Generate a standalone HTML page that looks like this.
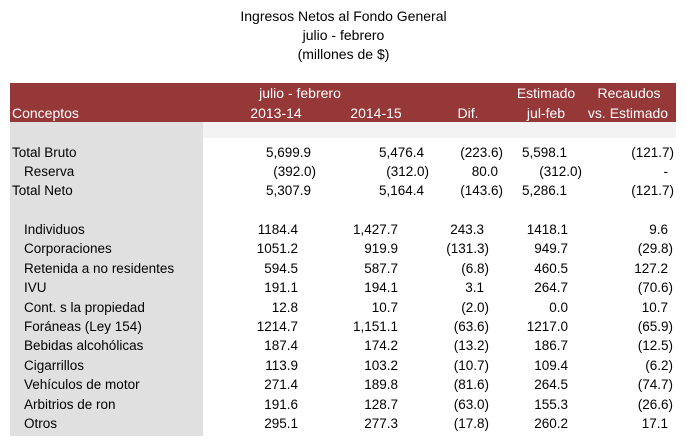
<!DOCTYPE html>
<html><head><meta charset="utf-8"><style>
body{margin:0;width:687px;height:440px;background:#fff;font-family:"Liberation Sans",Arial,sans-serif;position:relative;overflow:hidden;color:#000}
.t{position:absolute;white-space:nowrap;font-size:13.5px;line-height:16px}
.h{color:#fff;font-size:14px}
.ttl{position:absolute;left:0;width:687px;text-align:center;font-size:14px}
.r{transform:translateX(-100%)}
.c{transform:translateX(-50%)}
</style></head><body>
<div class="ttl" style="top:8px">Ingresos Netos al Fondo General</div>
<div class="ttl" style="top:27px">julio - febrero</div>
<div class="ttl" style="top:46px">(millones de $)</div>
<div style="position:absolute;left:10px;top:83px;width:666px;height:39px;background:#963838"></div>
<div style="position:absolute;left:10px;top:122px;width:193px;height:314px;background:#e0e0e0"></div>
<div style="position:absolute;left:203px;top:122px;width:473px;height:16px;background:#f3f3f3"></div>
<div class="t h c" style="left:300px;top:85px">julio - febrero</div>
<div class="t h" style="left:12px;top:105px">Conceptos</div>
<div class="t h c" style="left:276px;top:105px">2013-14</div>
<div class="t h c" style="left:376px;top:105px">2014-15</div>
<div class="t h c" style="left:468px;top:105px">Dif.</div>
<div class="t h c" style="left:546px;top:85px">Estimado</div>
<div class="t h c" style="left:546px;top:105px">jul-feb</div>
<div class="t h c" style="left:629px;top:85px">Recaudos</div>
<div class="t h c" style="left:628px;top:105px">vs. Estimado</div>
<div id="body"></div>
<script>
var labels=["Total Bruto","Reserva","Total Neto","Individuos","Corporaciones","Retenida a no residentes","IVU","Cont. s la propiedad","Foráneas (Ley 154)","Bebidas alcohólicas","Cigarrillos","Vehículos de motor","Arbitrios de ron","Otros"];
var c1=["5,699.9","(392.0)","5,307.9","1184.4","1051.2","594.5","191.1","12.8","1214.7","187.4","113.9","271.4","191.6","295.1"];
var c2=["5,476.4","(312.0)","5,164.4","1,427.7","919.9","587.7","194.1","10.7","1,151.1","174.2","103.2","189.8","128.7","277.3"];
var c3=["(223.6)","80.0","(143.6)","243.3","(131.3)","(6.8)","3.1","(2.0)","(63.6)","(13.2)","(10.7)","(81.6)","(63.0)","(17.8)"];
var c4=["5,598.1","(312.0)","5,286.1","1418.1","949.7","460.5","264.7","0.0","1217.0","186.7","109.4","264.5","155.3","260.2"];
var c5=["(121.7)","-","(121.7)","9.6","(29.8)","127.2","(70.6)","10.7","(65.9)","(12.5)","(6.2)","(74.7)","(26.6)","17.1"];
var tops=[145,164,183,222,241.4,260.8,280.2,299.6,319,338.4,357.8,377.2,396.6,416];
var b=document.getElementById('body');
function add(txt,x,y,cls,name){var d=document.createElement('div');d.className='t '+cls;d.style.left=x+'px';d.style.top=y+'px';d.textContent=txt;


b.appendChild(d);}
var topR=[[311,424,498,567,669],[311,424,498,577,669]];
var lowR=[298,398,484,568,668];
for(var i=0;i<labels.length;i++){
 var indent=(i==1||i>=3)?24:12;
 add(labels[i],indent,tops[i],'','row-label');
 var cols=[c1,c2,c3,c4,c5];
 for(var j=0;j<5;j++){
  var v=cols[j][i];var p=v.charAt(0)=='(';
  var x;
  if(i<3){x=[311,424,498,567,669][j];if(i==1&&j==3)x=577;if(i==1&&j==4)x=668;}
  else x=lowR[j];
  if(p)x+=5;
  add(v,x,tops[i],'r','cell-value');
 }
}
</script>
</body></html>
